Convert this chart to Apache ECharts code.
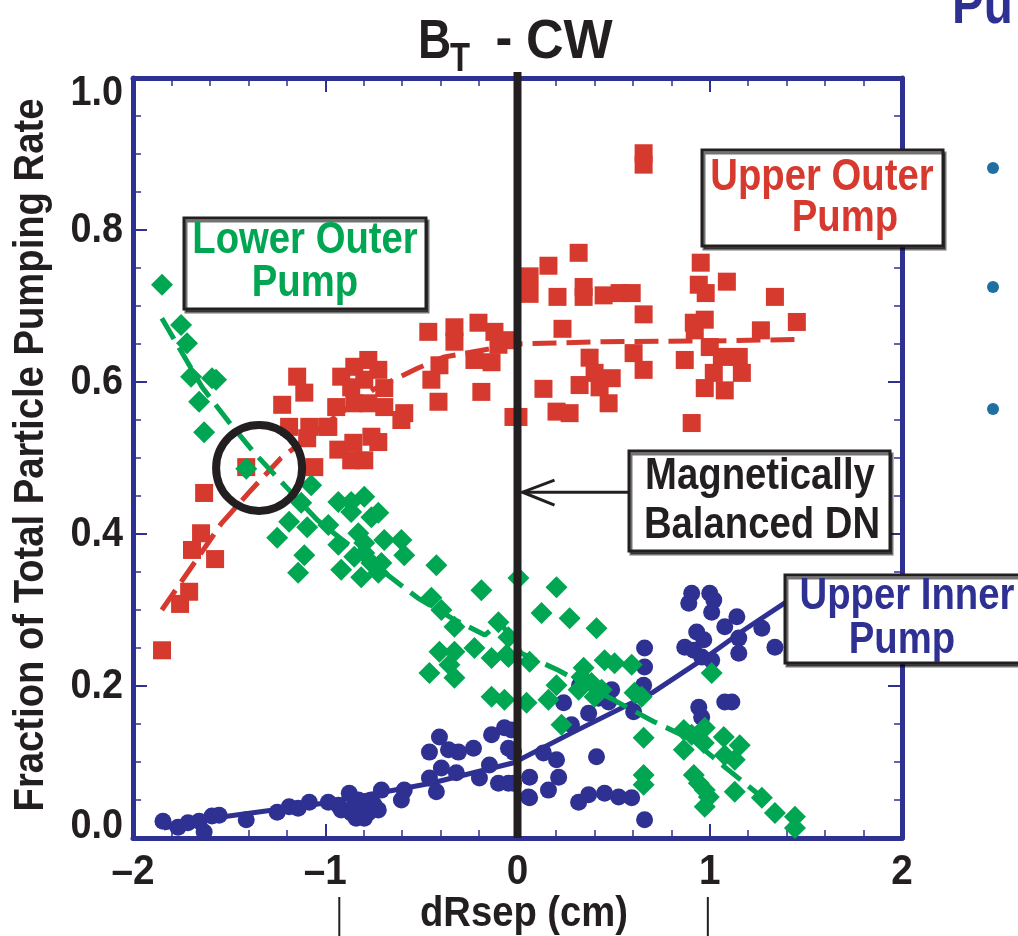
<!DOCTYPE html>
<html>
<head>
<meta charset="utf-8">
<script src="https://cdn.jsdelivr.net/npm/echarts@6/dist/echarts.min.js"></script>
<style>
  html, body { margin: 0; padding: 0; background: #fff; }
  #chart { width: 1018px; height: 936px; }
</style>
</head>
<body>
<div id="chart"></div>
<script>
// dRsep (cm) vs fraction of total particle pumping rate, BT - CW

const xTicks = [-2, -1, 0, 1, 2];
const yTicks = [0.0, 0.2, 0.4, 0.6, 0.8, 1.0];

// Upper outer pump (red squares)
const upperOuterPoints = [
  [-1.849,0.247],[-1.755,0.308],[-1.708,0.324],[-1.693,0.379],[-1.646,0.401],[-1.573,0.367],
  [-1.630,0.454],[-1.411,0.488],[-1.224,0.570],[-1.146,0.607],[-1.109,0.586],[-1.188,0.541],
  [-1.083,0.541],[-1.094,0.526],[-0.990,0.541],[-1.057,0.488],
  [-0.776,0.629],[-0.849,0.620],[-0.917,0.607],[-0.724,0.616],[-0.797,0.603],[-0.693,0.592],
  [-0.865,0.593],[-0.943,0.567],[-0.849,0.572],[-0.776,0.572],[-0.693,0.567],[-0.589,0.559],
  [-0.604,0.550],[-0.984,0.541],[-0.760,0.528],[-0.724,0.521],[-0.932,0.511],[-0.854,0.520],
  [-0.797,0.497],[-0.865,0.497],[-0.464,0.666],[-0.328,0.672],[-0.328,0.653],[-0.203,0.678],
  [-0.120,0.666],[-0.099,0.649],[-0.224,0.629],[-0.135,0.626],[-0.406,0.622],[-0.448,0.603],
  [-0.411,0.574],[-0.188,0.587],[-0.021,0.554],[-0.057,0.655],
  [0.656,0.901],[0.656,0.886],[0.318,0.770],[0.161,0.753],[0.063,0.739],[0.063,0.716],
  [0.208,0.712],[0.344,0.725],[0.344,0.712],[0.448,0.714],[0.531,0.717],[0.594,0.717],
  [0.656,0.689],[0.234,0.670],[0.953,0.757],[0.943,0.728],[0.979,0.717],[1.089,0.732],
  [1.339,0.712],[0.974,0.682],[0.917,0.678],[0.922,0.668],[1.266,0.668],[1.453,0.679],
  [0.375,0.632],[0.401,0.612],[0.490,0.605],[0.604,0.638],[0.656,0.616],[0.323,0.596],
  [0.427,0.593],[0.474,0.572],[0.135,0.591],[0.203,0.561],[0.271,0.559],[0.005,0.554],
  [0.870,0.629],[1.000,0.646],[1.063,0.633],[1.151,0.633],[1.021,0.612],[1.167,0.612],
  [0.974,0.592],[1.078,0.589],[0.906,0.546]
];

// Lower outer pump (green diamonds)
const lowerOuterPoints = [
  [-1.849,0.728],[-1.750,0.675],[-1.719,0.651],[-1.698,0.607],[-1.589,0.605],[-1.568,0.603],
  [-1.656,0.574],[-1.630,0.534],[-1.411,0.486],[-1.073,0.464],[-1.188,0.416],[-1.250,0.395],
  [-1.109,0.372],[-1.094,0.409],[-1.125,0.441],[-0.932,0.442],[-0.865,0.442],[-0.797,0.449],
  [-0.865,0.429],[-0.760,0.422],[-0.724,0.428],[-0.984,0.412],[-0.932,0.386],[-0.828,0.401],
  [-0.797,0.388],[-0.693,0.392],[-0.604,0.392],[-1.141,0.349],[-0.917,0.353],[-0.849,0.370],
  [-0.797,0.375],[-0.760,0.362],[-0.813,0.343],[-0.724,0.349],[-0.708,0.362],[-0.589,0.372],
  [-0.422,0.359],[-0.188,0.326],[0.005,0.342],[-0.448,0.316],[-0.396,0.300],[-0.328,0.278],
  [-0.099,0.284],[-0.047,0.264],[-0.406,0.245],[-0.328,0.245],[-0.224,0.250],[-0.135,0.237],
  [-0.047,0.238],[-0.354,0.228],[-0.458,0.217],[-0.328,0.211],[-0.135,0.186],[-0.068,0.182],
  [0.047,0.178],[0.203,0.330],[0.125,0.296],[0.271,0.289],[0.411,0.276],[-0.057,0.241],
  [0.063,0.232],[0.161,0.182],[0.203,0.201],[0.344,0.224],[0.453,0.234],[0.333,0.212],
  [0.385,0.204],[0.318,0.195],[0.401,0.186],[0.438,0.195],[0.505,0.230],[0.594,0.228],
  [0.609,0.191],[0.646,0.186],[0.229,0.149],[0.656,0.132],[1.010,0.217],[0.865,0.142],
  [0.906,0.136],[0.865,0.116],[0.974,0.145],[0.969,0.125],[1.073,0.133],[1.156,0.122],
  [1.078,0.109],[1.130,0.103],[0.917,0.083],[0.943,0.072],[0.974,0.063],[0.995,0.054],
  [0.974,0.041],[1.130,0.061],[1.271,0.053],[1.339,0.033],[1.443,0.028],[1.443,0.013],
  [0.656,0.083],[0.656,0.070]
];

// Upper inner pump (navy circles)
const upperInnerPoints = [
  [-1.844,0.022],[-1.766,0.014],[-1.714,0.020],[-1.656,0.022],[-1.630,0.008],[-1.589,0.029],
  [-1.552,0.030],[-1.411,0.024],[-1.250,0.034],[-1.188,0.041],[-1.141,0.039],[-1.083,0.047],
  [-0.984,0.047],[-0.932,0.043],[-0.875,0.059],[-0.828,0.050],[-0.797,0.041],[-0.760,0.050],
  [-0.865,0.033],[-0.797,0.026],[-0.724,0.037],[-0.708,0.063],[-0.917,0.037],[-0.839,0.026],
  [-0.854,0.041],[-0.776,0.033],[-0.745,0.043],[-0.589,0.063],[-0.604,0.050],[-0.458,0.079],
  [-0.422,0.061],[-0.396,0.092],[-0.318,0.086],[-0.406,0.133],[-0.458,0.113],[-0.359,0.116],
  [-0.307,0.113],[-0.229,0.118],[-0.198,0.079],[-0.146,0.096],[-0.135,0.136],[-0.068,0.145],
  [-0.047,0.118],[-0.099,0.072],[-0.047,0.072],[0.057,0.054],[-0.031,0.142],[-0.021,0.113],
  [-0.021,0.072],
  [0.906,0.322],[0.891,0.309],[1.000,0.322],[1.021,0.313],[1.010,0.297],[1.141,0.291],
  [1.078,0.278],[0.932,0.271],[0.969,0.261],[0.870,0.251],[0.917,0.247],[0.958,0.238],
  [1.010,0.234],[1.151,0.263],[1.151,0.243],[1.271,0.276],[1.339,0.251],[0.661,0.250],
  [0.661,0.225],[0.656,0.201],[0.604,0.166],[0.490,0.195],[0.474,0.179],[0.422,0.184],
  [0.370,0.164],[0.323,0.201],[0.240,0.178],[0.281,0.149],[0.203,0.103],[0.135,0.112],
  [0.063,0.080],[0.214,0.080],[0.161,0.063],[0.063,0.053],[0.411,0.107],[0.318,0.047],
  [0.370,0.057],[0.453,0.059],[0.526,0.054],[0.594,0.053],[0.661,0.024],[0.943,0.172],
  [0.958,0.159],[1.078,0.179],[1.115,0.179]
];

// Fitted trends
const upperOuterFit = [
  [-1.85,0.300],[-1.67,0.366],[-1.54,0.414],[-1.385,0.458],[-1.23,0.500],[-0.97,0.550],
  [-0.75,0.590],[-0.52,0.618],[-0.38,0.633],[0,0.650],[0.44,0.653],[1.0,0.654],[1.45,0.656]
];
const lowerOuterFit = [
  [-1.85,0.684],[-1.64,0.593],[-1.5,0.547],[-1.37,0.507],[-1.2,0.461],[-1.04,0.418],
  [-0.93,0.396],[-0.69,0.349],[-0.52,0.316],[-0.34,0.289],[-0.17,0.267],[-0.09,0.284],
  [0.02,0.243],[0.21,0.221],[0.71,0.153],[0.91,0.129],[1.08,0.093],[1.29,0.050]
];
const upperInnerFit = [
  [-1.84,0.013],[-1.53,0.028],[-1.0,0.046],[-0.45,0.072],[-0.02,0.099],[0.28,0.138],
  [0.70,0.191],[1.01,0.243],[1.18,0.274],[1.43,0.316],[1.52,0.330]
];

// Magnetically balanced double null position (drawn slightly past the frame top)
const balancedDN = [[0, 0], [0, 1.008]];
// Crossing of the lower- and upper-outer trends
const crossing = [-1.344, 0.487];
// Marks under the dRsep axis title
const rangeMarks = [-0.927, 0.99];

const FONT = "'Liberation Sans', Arial, sans-serif";
const NAVY = '#2e3192', RED = '#d6392e', GREEN = '#00a651', INK = '#231f20';
const NARROW = 0.9;   // horizontal squeeze for a condensed look
const BOXNARROW = 0.87;

const chart = echarts.init(document.getElementById('chart'));

const tickCommon = {
  axisLine: { onZero: false, lineStyle: { color: NAVY, width: 5 } },
  axisTick: { inside: true, length: 14, lineStyle: { color: NAVY, width: 2 } },
  axisLabel: { show: false },
  splitLine: { show: false }
};
const xMinor = { show: true, splitNumber: 5, length: 8, lineStyle: { color: NAVY, width: 1.5 } };
const yMinor = { show: true, splitNumber: 4, length: 8, lineStyle: { color: NAVY, width: 1.5 } };
const xRange = { type: 'value', min: xTicks[0], max: xTicks[xTicks.length - 1], interval: 1 };
const yRange = { type: 'value', min: yTicks[0], max: yTicks[yTicks.length - 1], interval: 0.2 };

chart.setOption({
  animation: false,
  backgroundColor: '#fff',
  grid: { left: 133, right: 116, top: 78, bottom: 98 },
  xAxis: [
    Object.assign({ position: 'bottom', minorTick: xMinor }, xRange, tickCommon),
    Object.assign({ position: 'top', minorTick: xMinor }, xRange, tickCommon)
  ],
  yAxis: [
    Object.assign({ position: 'left', minorTick: yMinor }, yRange, tickCommon),
    Object.assign({ position: 'right', minorTick: yMinor }, yRange, tickCommon)
  ],
  series: [
    { type: 'scatter', name: 'Upper Inner Pump', data: upperInnerPoints, symbol: 'circle', symbolSize: 17,
      itemStyle: { color: NAVY, opacity: 1 }, silent: true, z: 2 },
    { type: 'line', data: upperInnerFit, symbol: 'none', lineStyle: { color: NAVY, width: 5 }, silent: true, z: 2 },
    { type: 'scatter', name: 'Upper Outer Pump', data: upperOuterPoints, symbol: 'rect', symbolSize: 18,
      itemStyle: { color: RED, opacity: 1 }, silent: true, z: 3 },
    { type: 'line', data: upperOuterFit, symbol: 'none', lineStyle: { color: RED, width: 5, type: [24, 10] }, silent: true, z: 3 },
    { type: 'scatter', name: 'Lower Outer Pump', data: lowerOuterPoints, symbol: 'diamond', symbolSize: 22,
      itemStyle: { color: GREEN, opacity: 1 }, silent: true, z: 4 },
    { type: 'line', data: lowerOuterFit, symbol: 'none', lineStyle: { color: GREEN, width: 5, type: [24, 10] }, silent: true, z: 4 },
    { type: 'line', data: balancedDN, symbol: 'none', clip: false, lineStyle: { color: INK, width: 8 }, silent: true, z: 6 }
  ]
});

function px(p) { return chart.convertToPixel({ xAxisIndex: 0, yAxisIndex: 0 }, p); }

function label(text, x, y, color, size, opts) {
  opts = opts || {};
  return {
    type: 'text', x: x, y: y, z: 100,
    rotation: opts.rotation || 0,
    scaleX: opts.scaleX || NARROW,
    style: {
      text: text, fill: color, font: 'bold ' + size + 'px ' + FONT,
      align: opts.align || 'center', verticalAlign: opts.verticalAlign || 'middle'
    }
  };
}
function box(x, y, w, h) {
  return {
    type: 'rect', z: 99, shape: { x: x, y: y, width: w, height: h },
    style: { fill: '#fff', stroke: INK, lineWidth: 3, shadowColor: 'rgba(0,0,0,0.55)', shadowOffsetX: 2, shadowOffsetY: 3, shadowBlur: 0 }
  };
}
function fmtX(v) { return v < 0 ? '\u2013' + Math.abs(v) : String(v); }

const graphics = [];

// tick labels placed from the axis scales
yTicks.forEach(function (v, i) {
  let y = px([xTicks[0], v])[1];
  if (i === 0) y -= 12;
  if (i === yTicks.length - 1) y += 15;
  graphics.push(label(v.toFixed(1), 123, y, INK, 42, { align: 'right' }));
});
xTicks.forEach(function (v) {
  const p = px([v, yTicks[0]]);
  graphics.push(label(fmtX(v), p[0], p[1] + 34, INK, 43));
});

const c = px(crossing);
const zeroTop = px([0, 0.455]);
const m1 = px([rangeMarks[0], 0]);
const m2 = px([rangeMarks[1], 0]);

graphics.push(
  // title
  label('B', 418, 43, INK, 56, { align: 'left', scaleX: 0.82 }),
  label('T', 450, 60, INK, 40, { align: 'left', scaleX: 0.82 }),
  label('-', 504, 41, INK, 56, { scaleX: 0.9 }),
  label('CW', 526, 43, INK, 56, { align: 'left', scaleX: 0.93 }),
  // axis titles
  label('Fraction of Total Particle Pumping Rate', 31, 455, INK, 42, { rotation: Math.PI / 2, scaleX: 0.91 }),
  label('dRsep (cm)', 524, 914, INK, 42, { scaleX: 0.91 }),
  { type: 'line', z: 100, shape: { x1: m1[0], y1: 897, x2: m1[0], y2: 936 }, style: { stroke: INK, lineWidth: 2 } },
  { type: 'line', z: 100, shape: { x1: m2[0], y1: 897, x2: m2[0], y2: 936 }, style: { stroke: INK, lineWidth: 2 } },
  // crossing highlight
  { type: 'circle', z: 100, shape: { cx: c[0], cy: c[1], r: 43 }, style: { fill: null, stroke: INK, lineWidth: 8 } },
  // labels
  box(184, 218, 242, 91),
  label('Lower Outer', 305, 241, GREEN, 44, { scaleX: BOXNARROW }),
  label('Pump', 305, 284, GREEN, 44, { scaleX: BOXNARROW }),
  box(702, 150, 241, 96),
  label('Upper Outer', 822, 178, RED, 44, { scaleX: BOXNARROW }),
  label('Pump', 845, 219, RED, 44, { scaleX: BOXNARROW }),
  box(629, 451, 261, 100),
  label('Magnetically', 760, 477, INK, 44, { scaleX: BOXNARROW }),
  label('Balanced DN', 762, 526, INK, 44, { scaleX: BOXNARROW }),
  box(785, 575, 250, 88),
  label('Upper Inner', 907, 597, NAVY, 44, { scaleX: BOXNARROW }),
  label('Pump', 902, 641, NAVY, 44, { scaleX: BOXNARROW }),
  // arrow to the balanced DN line
  { type: 'polyline', z: 100, shape: { points: [[629, zeroTop[1]], [zeroTop[0] + 5, zeroTop[1]]] }, style: { stroke: INK, lineWidth: 3, fill: null } },
  { type: 'polyline', z: 100, shape: { points: [[zeroTop[0] + 37, zeroTop[1] - 12], [zeroTop[0] + 5, zeroTop[1]], [zeroTop[0] + 37, zeroTop[1] + 13]] }, style: { stroke: INK, lineWidth: 3, fill: null } },
  // slide margin items
  label('Pu', 952, 8, NAVY, 56, { align: 'left', scaleX: 0.85 }),
  { type: 'circle', z: 100, shape: { cx: 993, cy: 168, r: 6 }, style: { fill: '#1f6fa3' } },
  { type: 'circle', z: 100, shape: { cx: 993, cy: 287, r: 6 }, style: { fill: '#1f6fa3' } },
  { type: 'circle', z: 100, shape: { cx: 993, cy: 409, r: 6 }, style: { fill: '#1f6fa3' } }
);

chart.setOption({ graphic: graphics });
</script>
</body>
</html>
